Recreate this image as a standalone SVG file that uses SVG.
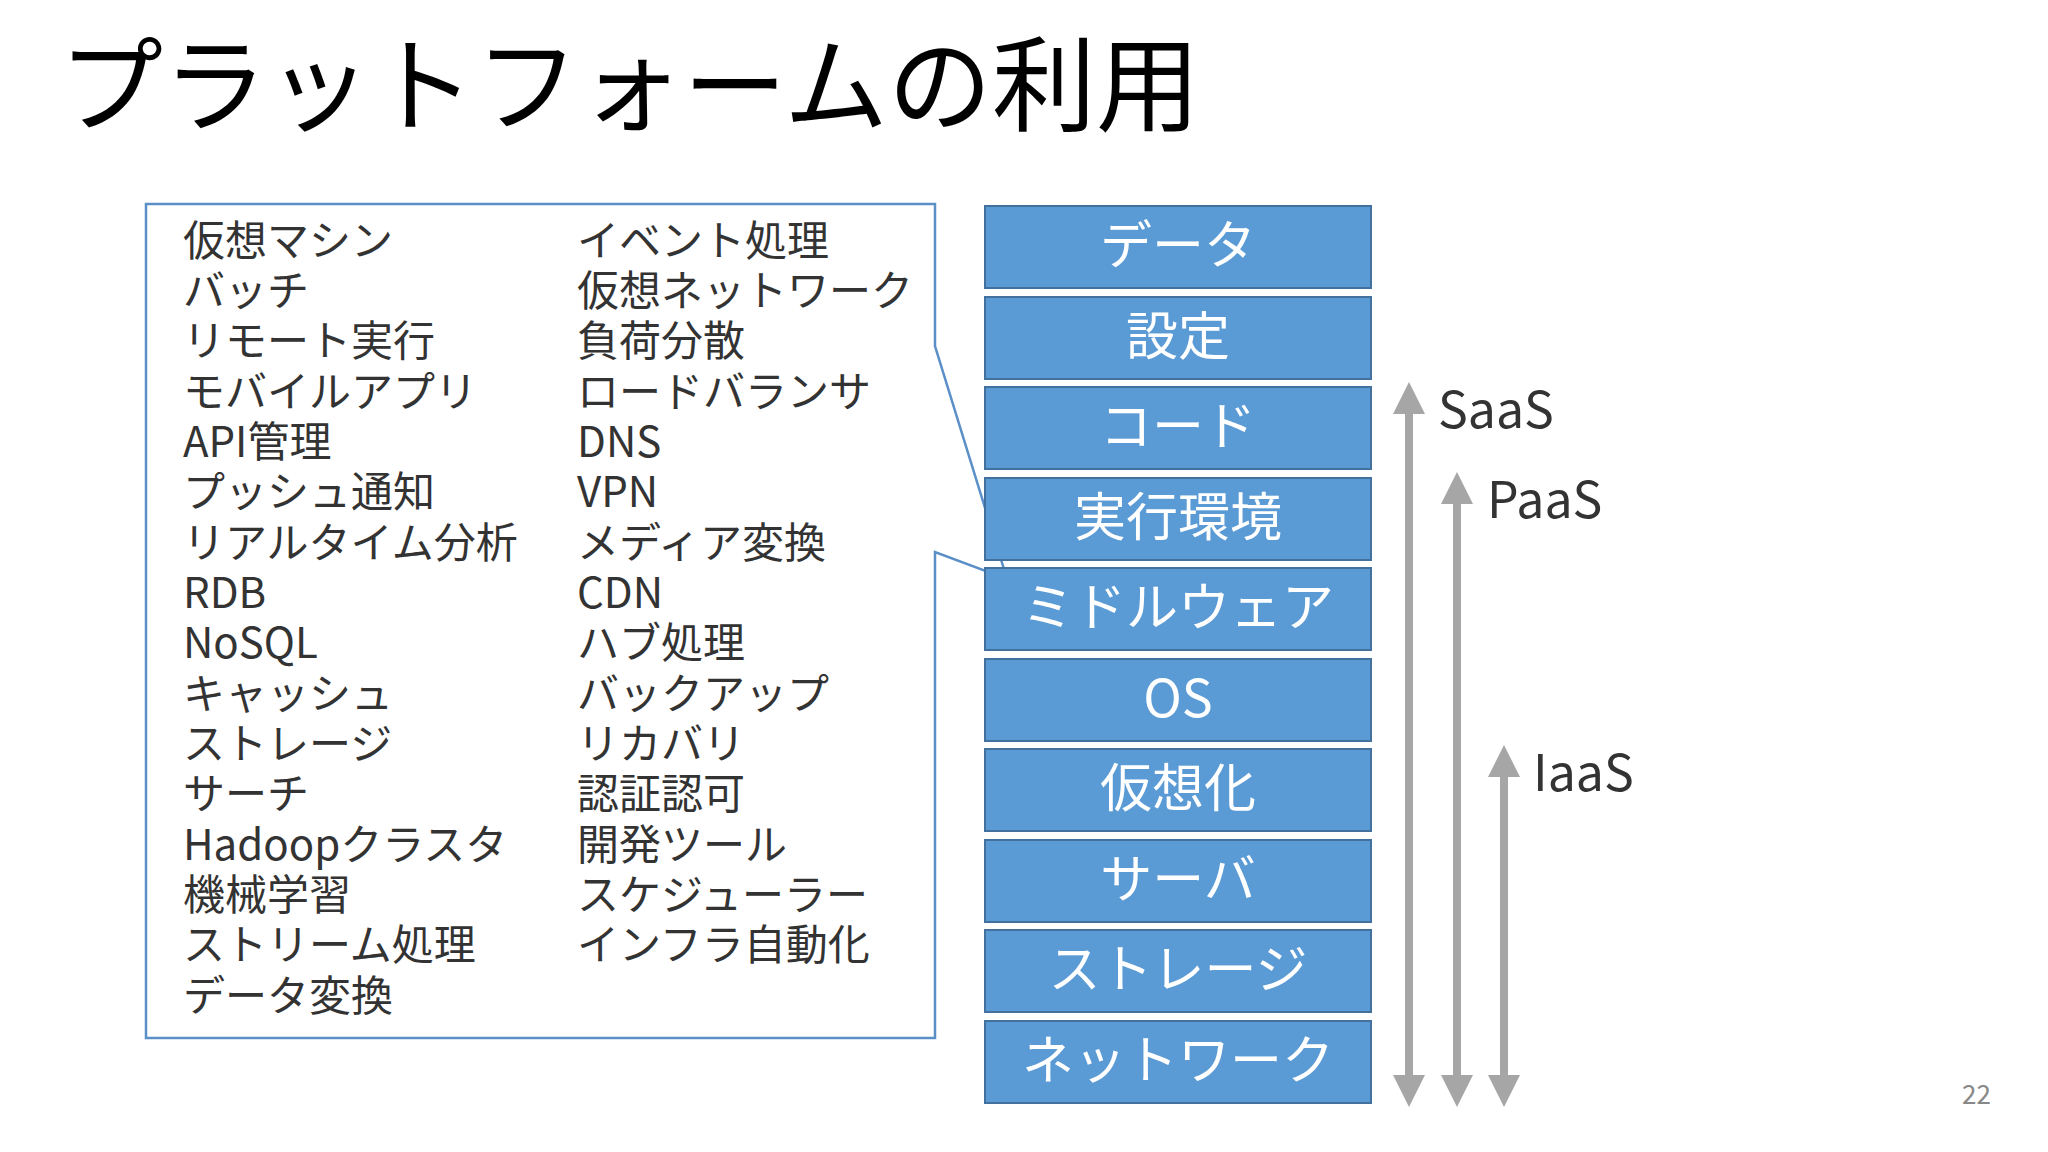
<svg xmlns="http://www.w3.org/2000/svg" width="2048" height="1152" viewBox="0 0 2048 1152">
<style>
text{font-family:"Noto Sans CJK JP","Noto Sans",sans-serif}
.t{font-size:42px;fill:#333}
.b rect{fill:#5b9bd5;stroke:#41719c;stroke-width:2}
.b text{font-size:52px;fill:#fff;text-anchor:middle}
.l{font-size:50px;fill:#333}
.a{stroke:#a6a6a6;stroke-width:8}
</style>
<defs><marker id="ah" viewBox="0 0 10 10" refX="5" refY="5" markerWidth="4" markerHeight="4" orient="auto-start-reverse"><path d="M0,0L10,5L0,10z" fill="#a6a6a6"/></marker></defs>
<rect width="2048" height="1152" fill="#fff"/>
<text x="59" y="124" font-size="104" fill="#000">プラットフォームの利用</text>
<g id="callout">
<path d="M146,204H935V346L1007,579L935,552V1038H146Z" fill="#fff" stroke="#5b8fc7" stroke-width="2.5"/>
<g class="t">
<text x="183" y="256">仮想マシン</text><text x="183" y="306">バッチ</text><text x="183" y="356">リモート実行</text><text x="183" y="407">モバイルアプリ</text><text x="183" y="457">API管理</text><text x="183" y="507">プッシュ通知</text><text x="183" y="558">リアルタイム分析</text><text x="183" y="608">RDB</text><text x="183" y="658">NoSQL</text><text x="183" y="709">キャッシュ</text><text x="183" y="759">ストレージ</text><text x="183" y="809">サーチ</text><text x="183" y="860">Hadoopクラスタ</text><text x="183" y="910">機械学習</text><text x="183" y="960">ストリーム処理</text><text x="183" y="1011">データ変換</text>
<text x="577" y="256">イベント処理</text><text x="577" y="306">仮想ネットワーク</text><text x="577" y="356">負荷分散</text><text x="577" y="407">ロードバランサ</text><text x="577" y="457">DNS</text><text x="577" y="507">VPN</text><text x="577" y="558">メディア変換</text><text x="577" y="608">CDN</text><text x="577" y="658">ハブ処理</text><text x="577" y="709">バックアップ</text><text x="577" y="759">リカバリ</text><text x="577" y="809">認証認可</text><text x="577" y="860">開発ツール</text><text x="577" y="910">スケジューラー</text><text x="577" y="960">インフラ自動化</text>
</g></g>
<g id="n1" class="b"><rect x="985" y="206" width="386" height="82"/><text x="1178" y="264">データ</text></g>
<g id="n2" class="b"><rect x="985" y="297" width="386" height="82"/><text x="1178" y="355">設定</text></g>
<g id="n3" class="b"><rect x="985" y="387" width="386" height="82"/><text x="1178" y="445">コード</text></g>
<g id="n4" class="b"><rect x="985" y="478" width="386" height="82"/><text x="1178" y="536">実行環境</text></g>
<g id="n5" class="b"><rect x="985" y="568" width="386" height="82"/><text x="1178" y="626">ミドルウェア</text></g>
<g id="n6" class="b"><rect x="985" y="659" width="386" height="82"/><text x="1178" y="717">OS</text></g>
<g id="n7" class="b"><rect x="985" y="749" width="386" height="82"/><text x="1178" y="807">仮想化</text></g>
<g id="n8" class="b"><rect x="985" y="840" width="386" height="82"/><text x="1178" y="898">サーバ</text></g>
<g id="n9" class="b"><rect x="985" y="930" width="386" height="82"/><text x="1178" y="988">ストレージ</text></g>
<g id="n10" class="b"><rect x="985" y="1021" width="386" height="82"/><text x="1178" y="1079">ネットワーク</text></g>
<g id="connectors">
<line class="a" x1="1409" y1="398" x2="1409" y2="1091" marker-start="url(#ah)" marker-end="url(#ah)"/>
<line class="a" x1="1457" y1="488" x2="1457" y2="1091" marker-start="url(#ah)" marker-end="url(#ah)"/>
<line class="a" x1="1504" y1="761" x2="1504" y2="1091" marker-start="url(#ah)" marker-end="url(#ah)"/>
</g>
<text class="l" x="1438" y="428">SaaS</text>
<text class="l" x="1487" y="518">PaaS</text>
<text class="l" x="1533" y="791">IaaS</text>
<text x="1962" y="1104" font-size="26" fill="#888">22</text>
</svg>
